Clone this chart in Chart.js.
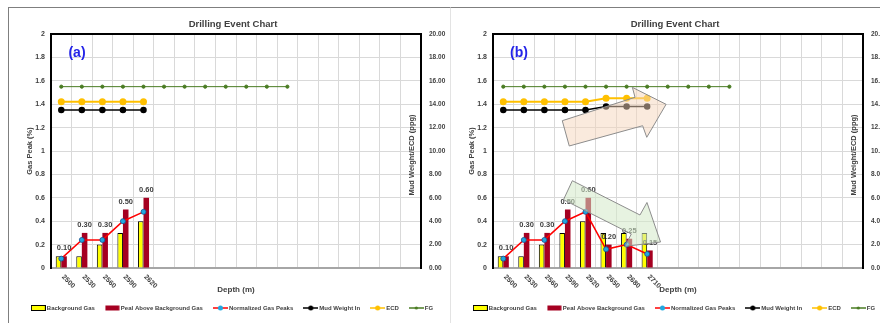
<!DOCTYPE html>
<html lang="en">
<head>
<meta charset="UTF-8">
<title>Drilling Event Chart</title>
<script src="https://cdn.jsdelivr.net/npm/chart.js"></script>
<style>
  html, body { margin: 0; padding: 0; background: #fff; overflow: hidden; width: 880px; height: 323px; }
  .frame { position: absolute; top: 7px; height: 316px; border-top: 1px solid #7f7f7f; border-left: 1px solid #7f7f7f; }
  #frameA { left: 8px; width: 442px; }
  #frameB { left: 450px; width: 430px; border-left-color: #e3e3e3; }
  canvas { position: absolute; top: 0; }
  #chartA { left: 0; }
  #chartB { left: 442px; }
</style>
</head>
<body>
<div class="frame" id="frameA"></div>
<div class="frame" id="frameB"></div>
<canvas id="chartA" width="466" height="323"></canvas>
<canvas id="chartB" width="466" height="323"></canvas>
<script>
const FONT = "'Liberation Sans', Arial, sans-serif";
const TEXT = '#404040';
const GRID = '#d9d9d9';
const SLOTS = 18; // depth slots on the x axis

// depth (m)
const depthsA = ['2500', '2530', '2560', '2590', '2620'];
const depthsB = ['2500', '2530', '2560', '2590', '2620', '2650', '2680', '2710'];

// gas (%) - left axis
const bgGasA   = [0.10, 0.10, 0.20, 0.30, 0.40];
const peakGasA = [0.10, 0.30, 0.30, 0.50, 0.60];
const normGasA = [0.08, 0.24, 0.24, 0.40, 0.48];

const bgGasB   = [0.10, 0.10, 0.20, 0.30, 0.40, 0.30, 0.30, 0.30];
const peakGasB = [0.10, 0.30, 0.30, 0.50, 0.60, 0.20, 0.25, 0.15];
const normGasB = [0.08, 0.24, 0.24, 0.40, 0.48, 0.16, 0.20, 0.12];

// ppg - right axis
const mudWeightA = [13.5, 13.5, 13.5, 13.5, 13.5];
const ecdA       = [14.2, 14.2, 14.2, 14.2, 14.2];
const mudWeightB = [13.5, 13.5, 13.5, 13.5, 13.5, 13.8, 13.8, 13.8];
const ecdB       = [14.2, 14.2, 14.2, 14.2, 14.2, 14.5, 14.5, 14.5];
const fracGrad   = [15.5, 15.5, 15.5, 15.5, 15.5, 15.5, 15.5, 15.5, 15.5, 15.5, 15.5, 15.5];

// block arrows drawn over panel (b), points in [depth slot, gas %]
const arrowsB = [
  { fill: 'rgba(246,214,188,0.5)',
    pts: [[2.87, 1.259], [6.41, 1.459], [6.28, 1.544], [7.92, 1.399], [6.98, 1.117], [6.78, 1.216], [3.21, 1.043]] },
  { fill: 'rgba(212,234,200,0.55)',
    pts: [[3.36, 0.746], [6.65, 0.453], [6.99, 0.560], [7.65, 0.222], [5.92, 0.185], [6.23, 0.291], [2.93, 0.584]] }
];

Chart.defaults.font.family = FONT;
Chart.defaults.font.weight = 'bold';
Chart.defaults.color = TEXT;

function swatch(kind, fill, stroke, dot, dotR) {
  const c = document.createElement('canvas');
  c.width = 15; c.height = 8;
  const g = c.getContext('2d');
  if (kind === 'bar') {
    g.fillStyle = fill;
    g.fillRect(0.5, 1.5, 14, 5);
    if (stroke) { g.strokeStyle = stroke; g.lineWidth = 1; g.strokeRect(0.5, 1.5, 14, 5); }
  } else {
    g.strokeStyle = stroke; g.lineWidth = 1.5;
    g.beginPath(); g.moveTo(0, 4); g.lineTo(15, 4); g.stroke();
    g.fillStyle = dot;
    g.beginPath(); g.arc(7.5, 4, dotR, 0, Math.PI * 2); g.fill();
  }
  return c;
}

const legendSwatches = [
  swatch('bar', '#ffff00', '#000'),
  swatch('bar', '#a50021'),
  swatch('line', null, '#ff0000', '#22a7df', 2.5),
  swatch('line', null, '#000', '#000', 2.5),
  swatch('line', null, '#ffc000', '#ffc000', 2.5),
  swatch('line', null, '#4a7c23', '#4a7c23', 1.6)
];

function buildChart(id, tag, depths, bg, peak, norm, mw, ecd, arrows) {
  const labels = Array.from({ length: SLOTS }, (_, i) => depths[i] || '');

  const extras = {
    id: 'extras',
    beforeDatasetsDraw(chart) {
      const { ctx, chartArea: a } = chart;
      ctx.save();
      ctx.strokeStyle = '#000';
      ctx.lineWidth = 2;
      ctx.beginPath(); ctx.moveTo(a.left, a.top); ctx.lineTo(a.right, a.top); ctx.stroke();
      ctx.restore();
    },
    afterDatasetsDraw(chart) {
      const { ctx } = chart;
      const xs = chart.scales.x, ys = chart.scales.y;
      ctx.save();
      ctx.font = 'bold 7.5px ' + FONT;
      ctx.fillStyle = TEXT;
      ctx.textAlign = 'center';
      ctx.textBaseline = 'middle';
      chart.getDatasetMeta(1).data.forEach((bar, i) => {
        ctx.fillText(peak[i].toFixed(2), bar.x, bar.y - 8);
      });
      arrows.forEach(ar => {
        ctx.beginPath();
        ar.pts.forEach((p, i) => {
          const x = xs.getPixelForValue(p[0]), y = ys.getPixelForValue(p[1]);
          if (i === 0) ctx.moveTo(x, y); else ctx.lineTo(x, y);
        });
        ctx.closePath();
        ctx.fillStyle = ar.fill;
        ctx.fill();
        ctx.strokeStyle = '#8c8c8c';
        ctx.lineWidth = 1;
        ctx.stroke();
      });
      ctx.restore();
    },
    afterDraw(chart) {
      const { ctx, chartArea: a } = chart;
      const xs = chart.scales.x;
      ctx.save();
      // rotated depth labels
      ctx.font = 'bold 7px ' + FONT;
      ctx.fillStyle = TEXT;
      ctx.textAlign = 'left';
      ctx.textBaseline = 'middle';
      labels.forEach((lbl, i) => {
        if (!lbl) return;
        ctx.save();
        ctx.translate(xs.getPixelForValue(i) + 1.5, a.bottom + 8);
        ctx.rotate(Math.PI / 4);
        ctx.fillText(lbl, 0, 0);
        ctx.restore();
      });
      // right axis title sits inside the plot
      ctx.save();
      ctx.font = 'bold 7.5px ' + FONT;
      ctx.textAlign = 'center';
      ctx.translate(a.right - 9, (a.top + a.bottom) / 2 + 4);
      ctx.rotate(-Math.PI / 2);
      ctx.fillText('Mud Weight/ECD (ppg)', 0, 0);
      ctx.restore();
      // panel tag
      ctx.font = 'bold 14px ' + FONT;
      ctx.fillStyle = '#2424e8';
      ctx.textAlign = 'center';
      ctx.fillText(tag, a.left + 26, a.top + 19);
      ctx.restore();
    }
  };

  const names = ['Background Gas', 'Peal Above Background Gas', 'Normalized Gas Peaks', 'Mud Weight In', 'ECD', 'FG'];

  return new Chart(document.getElementById(id), {
    type: 'bar',
    data: {
      labels: labels,
      datasets: [
        { label: names[0], data: bg, backgroundColor: '#ffff00', borderColor: '#000', borderWidth: 1,
          categoryPercentage: 0.54, barPercentage: 1, yAxisID: 'y', order: 3 },
        { label: names[1], data: peak, backgroundColor: '#a50021',
          categoryPercentage: 0.54, barPercentage: 1, yAxisID: 'y', order: 3 },
        { type: 'line', label: names[2], data: norm, borderColor: '#ff0000', borderWidth: 1.5,
          pointRadius: 2.5, pointBackgroundColor: '#22a7df', pointBorderColor: '#1b4f8c', pointBorderWidth: 0.8,
          yAxisID: 'y', order: 2 },
        { type: 'line', label: names[3], data: mw, borderColor: '#000', borderWidth: 1.5,
          pointRadius: 2.5, pointBackgroundColor: '#000', pointBorderColor: '#000', yAxisID: 'y1', order: 1 },
        { type: 'line', label: names[4], data: ecd, borderColor: '#ffc000', borderWidth: 2,
          pointRadius: 2.5, pointBackgroundColor: '#ffc000', pointBorderColor: '#ffc000', yAxisID: 'y1', order: 1 },
        { type: 'line', label: names[5], data: fracGrad, borderColor: '#4a7c23', borderWidth: 1,
          pointRadius: 1.6, pointBackgroundColor: '#4a7c23', pointBorderColor: '#4a7c23', yAxisID: 'y1', order: 0 }
      ]
    },
    options: {
      responsive: false,
      animation: false,
      events: [],
      layout: { padding: { top: 0, left: 0, right: 0, bottom: 2 } },
      scales: {
        x: {
          offset: true,
          grid: { color: GRID, offset: true, drawTicks: false },
          border: { color: '#a6a6a6', width: 2 },
          ticks: { display: false },
          title: { display: true, text: 'Depth (m)', color: TEXT, font: { size: 8, weight: 'bold' },
                   padding: { top: 0, bottom: -1.8 } },
          afterFit: s => { s.height = 25; }
        },
        y: {
          position: 'left', min: 0, max: 2,
          grid: { color: GRID, drawTicks: false },
          border: { color: '#000', width: 2 },
          ticks: { stepSize: 0.2, padding: 6, color: TEXT, font: { size: 7, weight: 'bold' },
                   callback: v => String(+v.toFixed(1)) },
          title: { display: true, text: 'Gas Peak (%)', color: TEXT, font: { size: 7.5, weight: 'bold' },
                   padding: { top: 25.5, bottom: 0 } },
          afterFit: s => { s.width = 51; }
        },
        y1: {
          position: 'right', min: 0, max: 20,
          grid: { display: false, drawTicks: false },
          border: { color: '#000', width: 2 },
          ticks: { stepSize: 2, padding: 8, color: TEXT, font: { size: 6.5, weight: 'bold' },
                   callback: v => v.toFixed(2) },
          afterFit: s => { s.width = 45; }
        }
      },
      plugins: {
        title: { display: true, text: 'Drilling Event Chart', color: TEXT, font: { size: 9.5, weight: 'bold' },
                 padding: { top: 18.3, bottom: 4.3 } },
        legend: {
          position: 'bottom',
          labels: {
            usePointStyle: true, pointStyleWidth: 11, boxHeight: 6, padding: 12,
            color: TEXT, font: { size: 6, weight: 'bold' },
            generateLabels: () => names.map((n, i) => ({
              text: n, pointStyle: legendSwatches[i], fontColor: TEXT, hidden: false,
              datasetIndex: i, lineWidth: 0, fillStyle: 'rgba(0,0,0,0)', strokeStyle: 'rgba(0,0,0,0)'
            }))
          }
        },
        tooltip: { enabled: false }
      }
    },
    plugins: [extras]
  });
}

buildChart('chartA', '(a)', depthsA, bgGasA, peakGasA, normGasA, mudWeightA, ecdA, []);
buildChart('chartB', '(b)', depthsB, bgGasB, peakGasB, normGasB, mudWeightB, ecdB, arrowsB);
</script>
</body>
</html>
